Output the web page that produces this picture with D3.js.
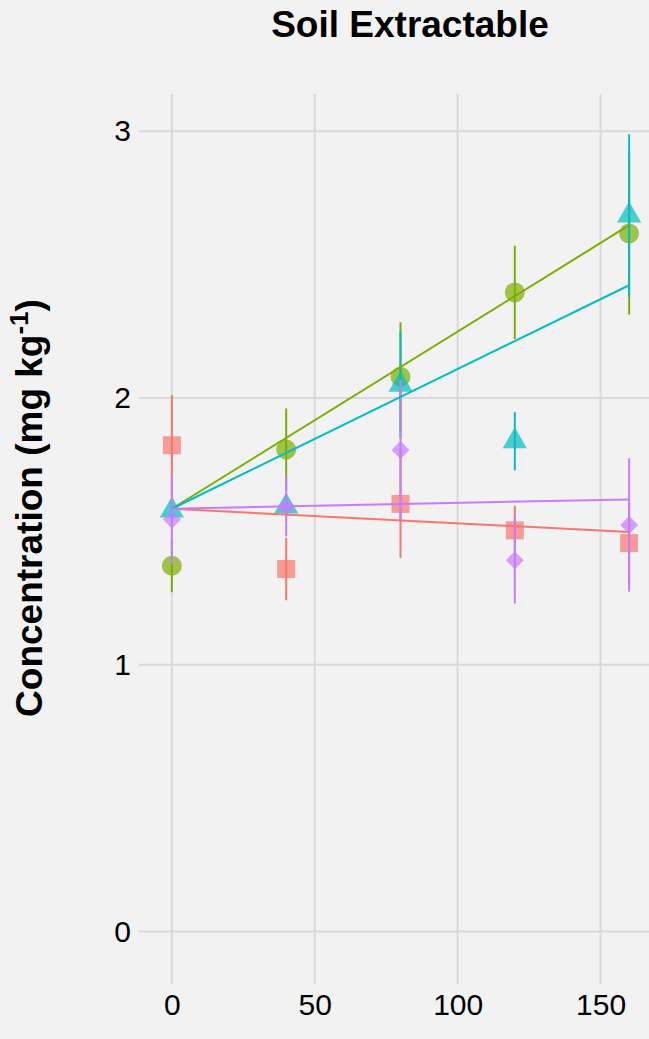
<!DOCTYPE html>
<html>
<head>
<meta charset="utf-8">
<script src="https://cdn.jsdelivr.net/npm/d3@7"></script>
<style>
  html, body { margin: 0; padding: 0; background: #f2f2f2; }
  svg { display: block; }
  text { font-family: "Liberation Sans", Arial, sans-serif; fill: #000; }
</style>
</head>
<body>
<div id="chart"></div>
<script>
// Application rates (x) and treatment groups
const rates = [0, 40, 80, 120, 160];
const groups = ["A", "B", "C", "D"];
const groupColors = ["#F8766D", "#7CAE00", "#00BFC4", "#C77CFF"];
const groupShapes = ["square", "circle", "triangle", "diamond"];

// Mean concentration per group at each rate
const meanA = [1.823, 1.359, 1.603, 1.504, 1.456];
const meanB = [1.371, 1.807, 2.080, 2.396, 2.617];
const meanC = [1.578, 1.593, 2.050, 1.838, 2.684];
const meanD = [1.545, 1.592, 1.805, 1.392, 1.524];

// Standard errors
const seA = [0.188, 0.117, 0.203, 0.092, 0.150];
const seB = [0.099, 0.154, 0.204, 0.175, 0.304];
const seC = [0.030, 0.040, 0.200, 0.109, 0.305];
const seD = [0.170, 0.111, 0.263, 0.162, 0.250];

// Fitted regression lines: value at rate 0 and at rate 160
const fitStart = [1.585, 1.585, 1.585, 1.585];
const fitEnd = [1.498, 2.648, 2.423, 1.620];

// Axis ticks
const xTicks = [0, 50, 100, 150];
const yTicks = [0, 1, 2, 3];

const chartTitle = "Soil Extractable";

const W = 649, H = 1039;
const means = [meanA, meanB, meanC, meanD];
const ses = [seA, seB, seC, seD];

const svg = d3.select("#chart").append("svg")
  .attr("width", W).attr("height", H);

svg.append("rect").attr("width", W).attr("height", H).attr("fill", "#f2f2f2");

const x = d3.scaleLinear().domain([-11.5, 171.5]).range([139, 662]);
const y = d3.scaleLinear().domain([-0.197, 3.14]).range([984, 94]);

const panel = { left: 139, right: 662, top: 94, bottom: 984 };

svg.append("defs").append("clipPath").attr("id", "panel-clip")
  .append("rect").attr("x", panel.left).attr("y", panel.top)
  .attr("width", panel.right - panel.left).attr("height", panel.bottom - panel.top);

// Grid lines
const grid = svg.append("g");
grid.selectAll("line.h").data(yTicks).join("line")
  .attr("x1", panel.left).attr("x2", panel.right)
  .attr("y1", d => y(d)).attr("y2", d => y(d))
  .attr("stroke", "#d9d9d9").attr("stroke-width", 2);
grid.selectAll("line.v").data(xTicks).join("line")
  .attr("x1", d => x(d)).attr("x2", d => x(d))
  .attr("y1", panel.top).attr("y2", panel.bottom)
  .attr("stroke", "#d9d9d9").attr("stroke-width", 2);

// Axes (labels only, no domain line)
const yAxis = svg.append("g").attr("transform", `translate(${panel.left},0)`)
  .call(d3.axisLeft(y).tickValues(yTicks).tickSize(0).tickPadding(8).tickFormat(d3.format("d")));
yAxis.select(".domain").remove();
yAxis.selectAll("text").attr("font-size", 30).attr("fill", "#000")
  .attr("font-family", "Liberation Sans, Arial, sans-serif");

const xAxis = svg.append("g").attr("transform", `translate(0,${panel.bottom})`)
  .call(d3.axisBottom(x).tickValues(xTicks).tickSize(0).tickPadding(10).tickFormat(d3.format("d")));
xAxis.select(".domain").remove();
xAxis.selectAll("text").attr("font-size", 30).attr("fill", "#000")
  .attr("font-family", "Liberation Sans, Arial, sans-serif");

// Marker shapes
const diamond = {
  draw(ctx, size) {
    const r = Math.sqrt(size / 2);
    ctx.moveTo(0, -r); ctx.lineTo(r, 0); ctx.lineTo(0, r); ctx.lineTo(-r, 0); ctx.closePath();
  }
};
const shapeType = { square: d3.symbolSquare, circle: d3.symbolCircle, triangle: d3.symbolTriangle, diamond: diamond };
const shapeSize = { square: 324, circle: 314, triangle: 255, diamond: 162 };

const plot = svg.append("g").attr("clip-path", "url(#panel-clip)");

// Points
groups.forEach((g, gi) => {
  const pts = rates.map((r, i) => ({ r, v: means[gi][i] }));
  plot.append("g").selectAll("path").data(pts).join("path")
    .attr("transform", d => `translate(${x(d.r)},${y(d.v)})`)
    .attr("d", d3.symbol().type(shapeType[groupShapes[gi]]).size(shapeSize[groupShapes[gi]]))
    .attr("fill", groupColors[gi]).attr("fill-opacity", 0.7);
});

// Error bars
groups.forEach((g, gi) => {
  const pts = rates.map((r, i) => ({ r, v: means[gi][i], se: ses[gi][i] }));
  plot.append("g").selectAll("line").data(pts).join("line")
    .attr("x1", d => x(d.r)).attr("x2", d => x(d.r))
    .attr("y1", d => y(d.v - d.se)).attr("y2", d => y(d.v + d.se))
    .attr("stroke", groupColors[gi]).attr("stroke-width", 2);
});

// Regression lines
const line = d3.line().x(d => x(d[0])).y(d => y(d[1]));
groups.forEach((g, gi) => {
  plot.append("path")
    .datum([[rates[0], fitStart[gi]], [rates[rates.length - 1], fitEnd[gi]]])
    .attr("d", line)
    .attr("fill", "none").attr("stroke", groupColors[gi]).attr("stroke-width", 2);
});

// Title
svg.append("text").attr("x", 410).attr("y", 37)
  .attr("text-anchor", "middle").attr("font-weight", "bold").attr("font-size", 37)
  .text(chartTitle);

// Y axis title with superscript
const yl = svg.append("text")
  .attr("transform", "translate(42,508) rotate(-90)")
  .attr("text-anchor", "middle").attr("font-weight", "bold").attr("font-size", 37);
yl.append("tspan").text("Concentration (mg kg");
yl.append("tspan").attr("dy", -14).attr("font-size", 26).text("-1");
yl.append("tspan").attr("dy", 14).text(")");
</script>
</body>
</html>
